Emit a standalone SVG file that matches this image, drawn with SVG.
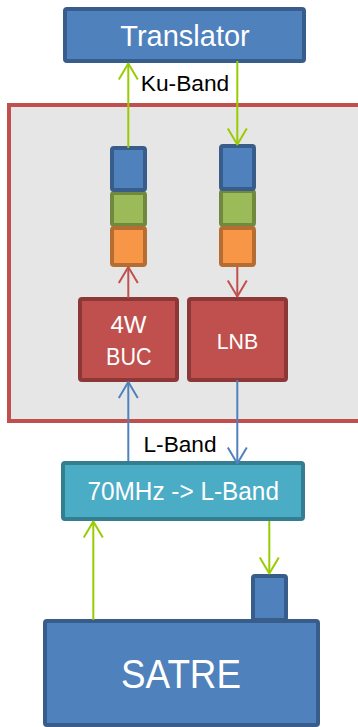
<svg xmlns="http://www.w3.org/2000/svg" width="358" height="727" viewBox="0 0 358 727">
<style>
text{font-family:"Liberation Sans",Arial,sans-serif;text-anchor:middle}
.w{fill:#fff}
.k{fill:#000;font-size:22px}
.blue{fill:#4F81BD;stroke:#385D8A;stroke-width:4}
.green{fill:#9BBB59;stroke:#71893F;stroke-width:4}
.orange{fill:#F79646;stroke:#B66D31;stroke-width:4}
.red{fill:#C0504D;stroke:#8C3836;stroke-width:4}
.aqua{fill:#4BACC6;stroke:#357D91;stroke-width:4}
.cg{stroke:#99CC00;stroke-width:2;fill:none}
.cr{stroke:#C0504D;stroke-width:2;fill:none}
.cb{stroke:#4F81BD;stroke-width:2;fill:none}
</style>
<defs>
<marker id="ag" markerUnits="userSpaceOnUse" markerWidth="20" markerHeight="22" viewBox="-18 -11 20 22" refX="0" refY="0" orient="auto"><path d="M-16,-9.5 L0,0 L-16,9.5" fill="none" stroke="#99CC00" stroke-width="2" stroke-linejoin="round"/></marker>
<marker id="ar" markerUnits="userSpaceOnUse" markerWidth="20" markerHeight="22" viewBox="-18 -11 20 22" refX="0" refY="0" orient="auto"><path d="M-16,-9.5 L0,0 L-16,9.5" fill="none" stroke="#C0504D" stroke-width="2" stroke-linejoin="round"/></marker>
<marker id="ab" markerUnits="userSpaceOnUse" markerWidth="20" markerHeight="22" viewBox="-18 -11 20 22" refX="0" refY="0" orient="auto"><path d="M-16,-9.5 L0,0 L-16,9.5" fill="none" stroke="#4F81BD" stroke-width="2" stroke-linejoin="round"/></marker>
</defs>
<rect width="358" height="727" fill="#fff"/>
<g id="enclosure"><rect x="9" y="105" width="360" height="316" fill="#E6E6E6" stroke="#C0504D" stroke-width="4"/></g>
<g id="translator"><rect class="blue" x="65" y="9" width="239" height="52" rx="2"/><text class="w" x="185" y="46" font-size="29">Translator</text></g>
<g id="stack-left">
<rect class="green" x="112" y="193" width="33" height="32" rx="2"/>
<rect class="blue" x="112" y="148" width="33" height="42" rx="2"/>
<rect class="orange" x="112" y="228" width="33" height="37" rx="2"/>
</g>
<g id="stack-right">
<rect class="green" x="221" y="191" width="33" height="34" rx="2"/>
<rect class="blue" x="221" y="146" width="33" height="43" rx="2"/>
<rect class="orange" x="221" y="228" width="33" height="37" rx="2"/>
</g>
<g id="buc"><rect class="red" x="80" y="299" width="97" height="81" rx="2"/><text class="w" x="128.5" y="332.5" font-size="23" textLength="36" lengthAdjust="spacingAndGlyphs">4W</text><text class="w" x="128.8" y="364.7" font-size="23" textLength="45.5" lengthAdjust="spacingAndGlyphs">BUC</text></g>
<g id="lnb"><rect class="red" x="189" y="299" width="97" height="81" rx="2"/><text class="w" x="237.5" y="349.3" font-size="22.5" textLength="41.5" lengthAdjust="spacingAndGlyphs">LNB</text></g>
<g id="converter"><rect class="aqua" x="63" y="463" width="240" height="56" rx="2"/><text class="w" x="183.2" y="500" font-size="25" textLength="191.5" lengthAdjust="spacingAndGlyphs">70MHz -&gt; L-Band</text></g>
<g id="satre">
<rect class="blue" x="253" y="576" width="33" height="44" rx="2"/>
<rect class="blue" x="45" y="621" width="273" height="104" rx="2"/>
<text class="w" x="181" y="688" font-size="40" textLength="120" lengthAdjust="spacingAndGlyphs">SATRE</text>
</g>
<g id="connectors">
<line class="cg" x1="128.3" y1="148" x2="128.3" y2="63.5" marker-end="url(#ag)"/>
<line class="cg" x1="237.3" y1="61" x2="237.3" y2="144.5" marker-end="url(#ag)"/>
<line class="cr" x1="128.3" y1="298" x2="128.3" y2="267" marker-end="url(#ar)"/>
<line class="cr" x1="237.3" y1="267" x2="237.3" y2="296.5" marker-end="url(#ar)"/>
<line class="cb" x1="128.3" y1="461" x2="128.3" y2="382" marker-end="url(#ab)"/>
<line class="cb" x1="237.3" y1="380" x2="237.3" y2="463.5" marker-end="url(#ab)"/>
<line class="cg" x1="93.3" y1="620" x2="93.3" y2="521.5" marker-end="url(#ag)"/>
<line class="cg" x1="269.3" y1="521" x2="269.3" y2="573.5" marker-end="url(#ag)"/>
<text class="k" x="185" y="90.7" textLength="88.5" lengthAdjust="spacingAndGlyphs">Ku-Band</text>
<text class="k" x="180" y="451.5" textLength="73" lengthAdjust="spacingAndGlyphs">L-Band</text>
</g>
</svg>
